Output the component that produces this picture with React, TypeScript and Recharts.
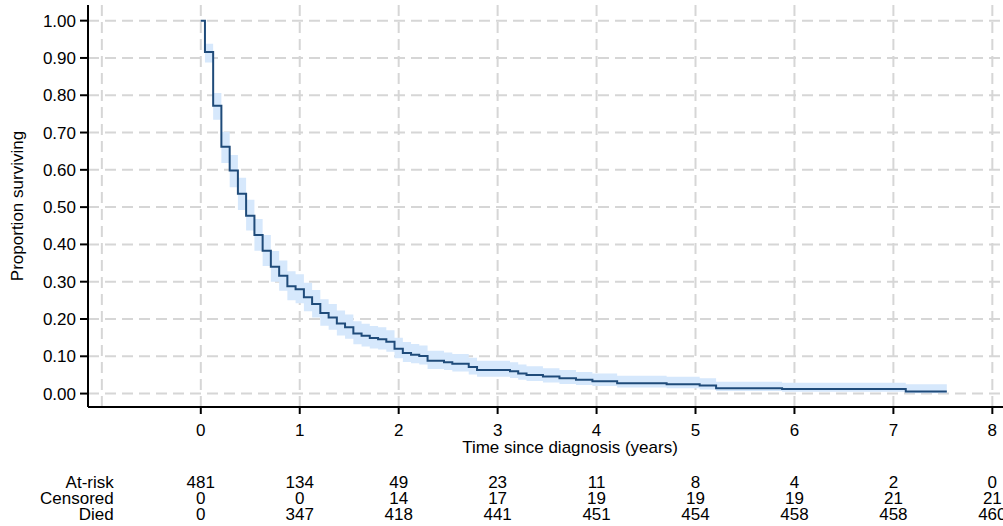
import React from "react";
import {
  ComposedChart,
  Area,
  Line,
  XAxis,
  YAxis,
  CartesianGrid,
  Label
} from "recharts";

// Kaplan-Meier step points (time in years)
const stepTimes = [
  0, 0.042, 0.125, 0.208, 0.292, 0.375, 0.458, 0.542, 0.625, 0.708, 0.792,
  0.875, 0.958, 1.042, 1.125, 1.208, 1.292, 1.375, 1.458, 1.542, 1.625, 1.708,
  1.792, 1.875, 1.958, 2.042, 2.125, 2.208, 2.292, 2.458, 2.542, 2.708, 2.792,
  3.125, 3.208, 3.292, 3.458, 3.625, 3.792, 3.958, 4.208, 4.708, 5.042, 5.208,
  5.875, 7.125, 7.54
];
const survival = [
  1.0, 0.916, 0.772, 0.662, 0.598, 0.536, 0.477, 0.425, 0.383, 0.34, 0.316,
  0.288, 0.28, 0.258, 0.24, 0.216, 0.204, 0.188, 0.178, 0.161, 0.155, 0.149,
  0.146, 0.139, 0.12, 0.109, 0.104, 0.101, 0.088, 0.084, 0.08, 0.071, 0.063,
  0.06, 0.054, 0.05, 0.046, 0.041, 0.037, 0.033, 0.028, 0.025, 0.0215, 0.0145,
  0.012, 0.0058, 0.0058
];
const ciLower = [
  1.0, 0.888, 0.734, 0.618, 0.553, 0.492, 0.437, 0.383, 0.342, 0.3, 0.276,
  0.25, 0.242, 0.221, 0.204, 0.182, 0.171, 0.156, 0.147, 0.132, 0.126, 0.121,
  0.118, 0.112, 0.095, 0.085, 0.081, 0.078, 0.066, 0.063, 0.059, 0.051, 0.045,
  0.042, 0.037, 0.034, 0.03, 0.026, 0.023, 0.02, 0.016, 0.014, 0.011, 0.007,
  0.005, 0.001, 0.001
];
const ciUpper = [
  1.0, 0.938, 0.806, 0.702, 0.64, 0.579, 0.52, 0.468, 0.425, 0.382, 0.357,
  0.328, 0.32, 0.297, 0.278, 0.253, 0.24, 0.223, 0.212, 0.194, 0.187, 0.181,
  0.178, 0.17, 0.15, 0.138, 0.133, 0.129, 0.115, 0.11, 0.106, 0.096, 0.088,
  0.084, 0.078, 0.073, 0.068, 0.063, 0.058, 0.054, 0.048, 0.045, 0.041, 0.032,
  0.029, 0.025, 0.025
];

// number-at-risk table
const riskTimes = [0, 1, 2, 3, 4, 5, 6, 7, 8];
const atRisk = [481, 134, 49, 23, 11, 8, 4, 2, 0];
const censored = [0, 0, 14, 17, 19, 19, 19, 21, 21];
const died = [0, 347, 418, 441, 451, 454, 458, 458, 460];

const yTicks = [0, 0.1, 0.2, 0.3, 0.4, 0.5, 0.6, 0.7, 0.8, 0.9, 1.0];
const xGrid = [-1, 0, 1, 2, 3, 4, 5, 6, 7, 8];

const FONT = "'Liberation Sans', Arial, Helvetica, sans-serif";

const data = stepTimes.map((t, i) => ({
  t,
  s: survival[i],
  band: [ciLower[i], ciUpper[i]]
}));

const RiskTick = (props: any) => {
  const { x, y, payload } = props;
  const i = riskTimes.indexOf(payload.value);
  const txt = { fontFamily: FONT, fontSize: 17, fill: "#000" };
  return (
    <g>
      <text x={x} y={y + 22} textAnchor="middle" {...txt}>
        {payload.value}
      </text>
      <text x={x} y={y + 74} textAnchor="middle" {...txt}>{atRisk[i]}</text>
      <text x={x} y={y + 90} textAnchor="middle" {...txt}>{censored[i]}</text>
      <text x={x} y={y + 106} textAnchor="middle" {...txt}>{died[i]}</text>
      {i === 0 && (
        <g>
          <text x={x - 87} y={y + 74} textAnchor="end" {...txt}>At-risk</text>
          <text x={x - 87} y={y + 90} textAnchor="end" {...txt}>Censored</text>
          <text x={x - 87} y={y + 106} textAnchor="end" {...txt}>Died</text>
        </g>
      )}
    </g>
  );
};

const App: React.FC = () => {
  return (
    <div
      style={{
        position: "fixed",
        left: 0,
        top: 0,
        width: 1003,
        height: 526,
        overflow: "hidden",
        background: "#fff"
      }}
    >
      <ComposedChart
        width={1052}
        height={526}
        data={data}
        margin={{ top: 5, right: 0, bottom: 0, left: 0 }}
      >
        <CartesianGrid
          stroke="#d6d6d6"
          strokeWidth={2}
          strokeDasharray="11 6"
          verticalValues={xGrid}
          horizontalValues={yTicks}
        />
        <XAxis
          type="number"
          dataKey="t"
          domain={[-1.14, 8.603]}
          ticks={riskTimes}
          allowDataOverflow
          height={119}
          interval={0}
          tickSize={7}
          tickMargin={0}
          axisLine={{ stroke: "#000", strokeWidth: 2 }}
          tickLine={{ stroke: "#000", strokeWidth: 2 }}
          tick={<RiskTick />}
        >
          <Label
            content={(p: any) => {
              const vb = p.viewBox;
              return (
                <text
                  x={vb.x + vb.width / 2}
                  y={vb.y + 46}
                  textAnchor="middle"
                  fontFamily={FONT}
                  fontSize={17}
                  fill="#000"
                >
                  Time since diagnosis (years)
                </text>
              );
            }}
          />
        </XAxis>
        <YAxis
          type="number"
          domain={[-0.036, 1.042]}
          ticks={yTicks}
          allowDataOverflow
          width={88}
          interval={0}
          tickSize={8}
          tickMargin={4}
          tickFormatter={(v: number) => v.toFixed(2)}
          axisLine={{ stroke: "#000", strokeWidth: 2 }}
          tickLine={{ stroke: "#000", strokeWidth: 2 }}
          tick={{ fontFamily: FONT, fontSize: 17, fill: "#000" }}
        >
          <Label
            content={(p: any) => {
              const vb = p.viewBox;
              const cy = vb.y + vb.height / 2;
              return (
                <text
                  x={23}
                  y={cy}
                  transform={`rotate(-90 23 ${cy})`}
                  textAnchor="middle"
                  fontFamily={FONT}
                  fontSize={17}
                  fill="#000"
                >
                  Proportion surviving
                </text>
              );
            }}
          />
        </YAxis>
        <Area
          type="stepAfter"
          dataKey="band"
          stroke="none"
          fill="#d6e8fc"
          fillOpacity={1}
          isAnimationActive={false}
          activeDot={false}
        />
        <Line
          type="stepAfter"
          dataKey="s"
          stroke="#1f4b7a"
          strokeWidth={2}
          dot={false}
          activeDot={false}
          isAnimationActive={false}
        />
      </ComposedChart>
    </div>
  );
};

export default App;
